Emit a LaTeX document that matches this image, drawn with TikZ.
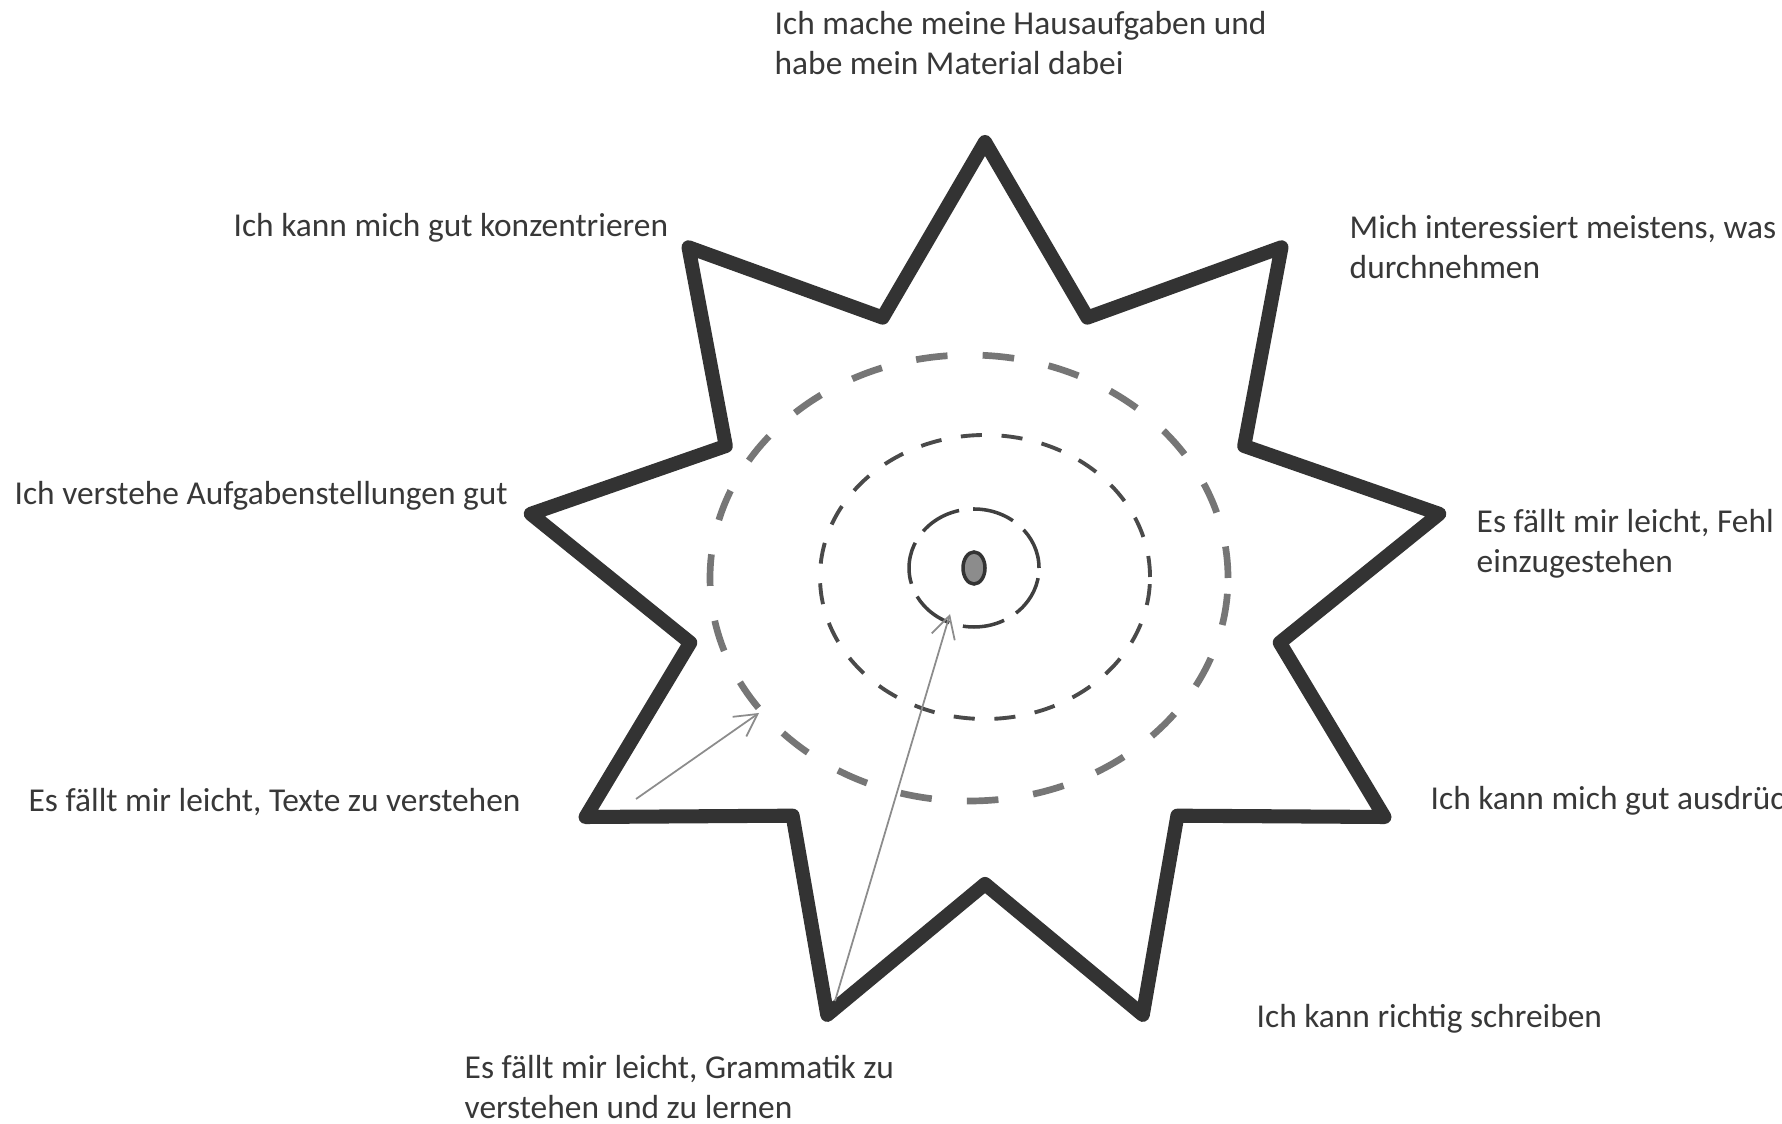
\documentclass[tikz,border=0pt]{standalone}
\usepackage{fontspec}
\setmainfont{Carlito}
\usetikzlibrary{arrows.meta, positioning, calc, shapes.geometric}

\definecolor{starink}{HTML}{333333}
\definecolor{ringout}{HTML}{767676}
\definecolor{ringmid}{HTML}{4A4A4A}
\definecolor{ringin}{HTML}{404040}
\definecolor{pointer}{HTML}{8C8C8C}
\definecolor{labelink}{HTML}{383838}

\begin{document}
\begin{tikzpicture}[
    starline/.style={draw=starink, line width=4pt, line join=round},
    outerring/.style={draw=ringout, line width=1.9pt, dash pattern=on 9pt off 10pt},
    midring/.style={draw=ringmid, line width=1.1pt, dash pattern=on 6pt off 5.6pt},
    innerring/.style={draw=ringin, line width=1pt, dash pattern=on 12pt off 4pt},
    bullseye/.style={ellipse, draw=starink, fill=black!45, line width=1pt, minimum width=2.2mm, minimum height=3.2mm, inner sep=0pt},
    pointerline/.style={-{Straight Barb[length=2.2mm, width=2.4mm]}, draw=pointer, line width=0.5pt},
    statement/.style={anchor=west, inner sep=0pt, align=left, text=labelink, font=\fontsize{9.5}{11.4}\selectfont},
]

\useasboundingbox (0,0) rectangle (17.82,11.23);
\fill[white] (0,0) rectangle (17.82,11.23);

% === STAR (9 points) ===
\coordinate (c) at (9.85,5.31);
\foreach \k [evaluate=\k as \r using {mod(\k,2)==0 ? 4.5 : 2.92}] in {0,...,17} {
    \coordinate (p\k) at ({9.85+1.025*\r*cos(90+20*\k)},{5.31+\r*sin(90+20*\k)});
}
\draw[starline] (p0) \foreach \k in {1,...,17} { -- (p\k) } -- cycle;

% === RINGS ===
\draw[outerring] (9.69,5.45) ellipse [x radius=2.59, y radius=2.23];
\draw[midring] (9.85,5.46) ellipse [x radius=1.65, y radius=1.42];
\draw[innerring] (9.74,5.55) ellipse [x radius=0.65, y radius=0.59];
\node[bullseye] (core) at (9.74,5.55) {};

% === POINTERS ===
\coordinate (texte) at (6.36,3.24);
\coordinate (texteend) at (7.59,4.10);
\coordinate (gramm) at (8.35,1.22);
\coordinate (grammend) at (9.50,5.09);
\draw[pointerline] (texte) -- (texteend);
\draw[pointerline] (gramm) -- (grammend);

% === STATEMENTS ===
\node[statement] (hausaufgaben) at (7.74,10.80) {Ich mache meine Hausaufgaben und\\habe mein Material dabei};
\node[statement] (konzentrieren) at (2.33,8.95) {Ich kann mich gut konzentrieren};
\node[statement] (interesse) at (13.49,8.76) {Mich interessiert meistens, was\\durchnehmen};
\node[statement] (aufgaben) at (0.14,6.27) {Ich verstehe Aufgabenstellungen gut};
\node[statement] (fehler) at (14.76,5.79) {Es fällt mir leicht, Fehl\\einzugestehen};
\node[statement] (texteverstehen) at (0.28,3.21) {Es fällt mir leicht, Texte zu verstehen};
\node[statement] (ausdruck) at (14.30,3.22) {Ich kann mich gut ausdrüc};
\node[statement] (schreiben) at (12.56,1.04) {Ich kann richtig schreiben};
\node[statement] (grammatik) at (4.64,0.36) {Es fällt mir leicht, Grammatik zu\\verstehen und zu lernen};

\end{tikzpicture}
\end{document}
